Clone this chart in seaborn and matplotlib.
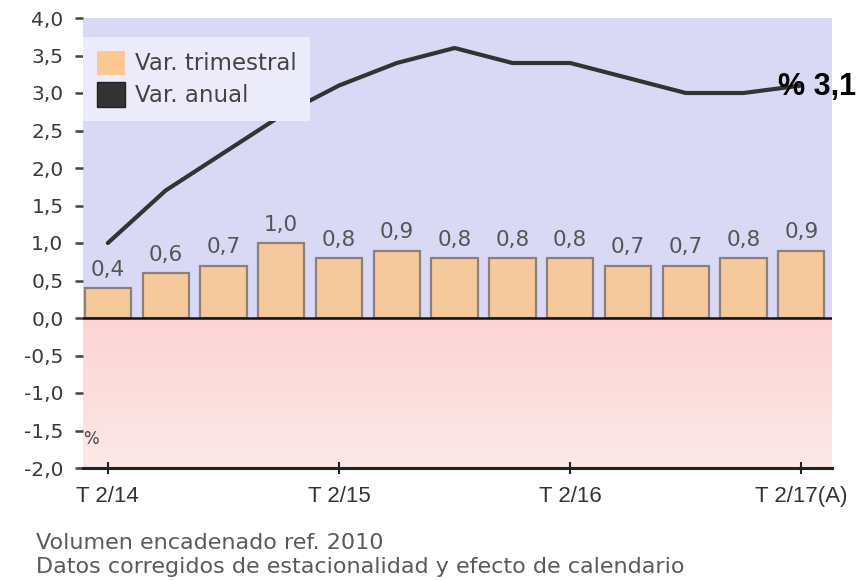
import matplotlib
matplotlib.use("Agg")
import matplotlib.pyplot as plt
from matplotlib.patches import Patch
from matplotlib.colors import LinearSegmentedColormap
import seaborn as sns
import pandas as pd
import numpy as np

quarters = ["T 2/14", "T 3/14", "T 4/14", "T 1/15", "T 2/15", "T 3/15", "T 4/15",
            "T 1/16", "T 2/16", "T 3/16", "T 4/16", "T 1/17", "T 2/17(A)"]
var_trimestral = [0.4, 0.6, 0.7, 1.0, 0.8, 0.9, 0.8, 0.8, 0.8, 0.7, 0.7, 0.8, 0.9]
var_anual = [1.0, 1.7, 2.2, 2.7, 3.1, 3.4, 3.6, 3.4, 3.4, 3.2, 3.0, 3.0, 3.1]
shown_ticks = ["T 2/14", "T 2/15", "T 2/16", "T 2/17(A)"]
yticks = [4.0, 3.5, 3.0, 2.5, 2.0, 1.5, 1.0, 0.5, 0.0, -0.5, -1.0, -1.5, -2.0]

df = pd.DataFrame({"q": quarters, "tri": var_trimestral, "anu": var_anual})

sns.set_style("white")
plt.rcParams["font.family"] = ["DejaVu Sans"]

fig = plt.figure(figsize=(8.64, 5.8), dpi=100)
ax = fig.add_axes([83 / 864, 1 - 468 / 580, (832 - 83) / 864, (468 - 18) / 580])

# backgrounds
ax.axhspan(0, 4.0, color="#d9d9f5", zorder=0, lw=0)
grad = np.linspace(0, 1, 100).reshape(-1, 1)
cmap = LinearSegmentedColormap.from_list("pk", ["#fcd4d4", "#fde8e8"])

sns.barplot(data=df, x="q", y="tri", ax=ax, color="#f6c99d", edgecolor="#8d8079",
            linewidth=1.6, width=0.8, saturation=1, zorder=3)
sns.lineplot(data=df, x="q", y="anu", ax=ax, color="#333333", linewidth=3.0,
             sort=False, zorder=4)

xlim = (-0.43, 12.53)
ax.imshow(grad, extent=[xlim[0], xlim[1], -2.0, 0.0], origin="upper", cmap=cmap,
          aspect="auto", zorder=0)
ax.set_xlim(*xlim)
ax.set_ylim(-2.0, 4.0)

ax.axhline(0, color="#111111", lw=1.8, zorder=5)

for i, v in enumerate(var_trimestral):
    ax.text(i, v + 0.11, f"{v:.1f}".replace(".", ","), ha="center", va="bottom",
            fontsize=15.5, color="#555555", zorder=6)

ax.set_yticks(yticks)
ax.set_yticklabels([f"{t:.1f}".replace(".", ",") for t in yticks], fontsize=14.5,
                   color="#3a3a3a")
pos = [quarters.index(t) for t in shown_ticks]
ax.set_xticks(pos)
ax.set_xticklabels(shown_ticks, fontsize=16, color="#333333", family="Liberation Sans")
ax.set_xlabel("")
ax.set_ylabel("")
ax.tick_params(axis="y", left=True, direction="out", length=6, width=1.8,
               color="#444444", pad=8)
ax.tick_params(axis="x", bottom=True, direction="inout", length=8, width=1.5,
               color="#222222", pad=9)

for s in ["top", "right", "left"]:
    ax.spines[s].set_visible(False)
ax.spines["bottom"].set_color("#222222")
ax.spines["bottom"].set_linewidth(2.2)

ax.text(-0.42, -1.62, "%", fontsize=12, color="#444444", ha="left", va="center",
        zorder=6, family="Liberation Sans Narrow")

handles = [Patch(facecolor="#fbc792", edgecolor="none", label="Var. trimestral"),
           Patch(facecolor="#333333", edgecolor="#222222", label="Var. anual")]
leg = ax.legend(handles=handles, loc="upper left", bbox_to_anchor=(0.0, 0.958),
                borderaxespad=0, frameon=True, fontsize=16.5, handlelength=1.25,
                handleheight=1.25, borderpad=0.6, labelspacing=0.3,
                handletextpad=0.4, fancybox=False)
leg.get_frame().set_facecolor("#ebebf9")
leg.get_frame().set_edgecolor("none")
leg.get_frame().set_alpha(1)
for t in leg.get_texts():
    t.set_color("#444444")

fig.text(778 / 864, 1 - 87 / 580, "% 3,1", fontsize=22, fontweight="bold",
         color="black", ha="left", va="center", family="Liberation Sans")
fig.text(36 / 864, 1 - 549 / 580, "Volumen encadenado ref. 2010", fontsize=16,
         color="#5a5a5a", ha="left", va="baseline")
fig.text(36 / 864, 1 - 573 / 580, "Datos corregidos de estacionalidad y efecto de calendario",
         fontsize=16, color="#5a5a5a", ha="left", va="baseline")

fig.savefig("out.png", dpi=100)
